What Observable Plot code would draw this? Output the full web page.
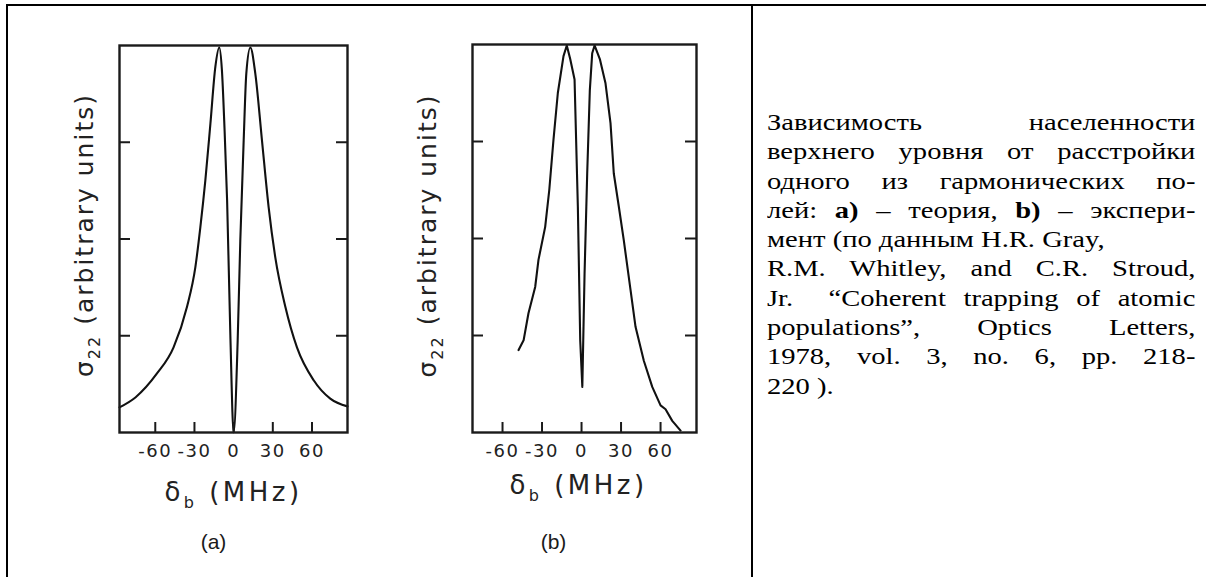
<!DOCTYPE html>
<html>
<head>
<meta charset="utf-8">
<script src="https://cdn.jsdelivr.net/npm/d3@7"></script>
<script src="https://cdn.jsdelivr.net/npm/@observablehq/plot@0.6"></script>
<style>
  html, body { margin: 0; padding: 0; background: #fff; }
  body { width: 1206px; height: 577px; overflow: hidden; position: relative; }
  .rule { position: absolute; background: #000; }
  #caption { position: absolute; left: 767px; top: 108px; width: 360px;
    transform: scaleX(1.19); transform-origin: 0 0;
    font-family: "Liberation Serif", "Times New Roman", serif; font-size: 24px; color: #000; }
  #caption div { height: 29.3px; line-height: 29.3px; overflow: visible; white-space: nowrap; }
  #caption div.j { text-align: justify; text-align-last: justify; white-space: normal; }
  #caption div.l { text-align: left; }
</style>
</head>
<body>
<div class="rule" style="left:6px;top:4px;width:1200px;height:2px"></div>
<div class="rule" style="left:6px;top:4px;width:2px;height:573px"></div>
<div class="rule" style="left:751px;top:4px;width:2px;height:573px"></div>
<div id="caption"></div>
<script>
// ---- data ----
const xTicks = [-60, -30, 0, 30, 60];
const xTickLabels = ["-60", "-30", "0", "30", "60"];
const yTicks = [1, 2, 3];

// (a) theory: sigma22 vs detuning (MHz)
const theoryDetuning = [-87.4, -75, -58.7, -46, -35.7, -29.3, -25.5, -21.7, -17.8, -14, -11, -9, -7, -5, -2.5, 0,
  3.1, 5.1, 7.7, 9.7, 12.8, 16.6, 21.7, 26.8, 31.9, 39.6, 48.5, 61.3, 74, 87.2];
const theoryPopulation = [0.26, 0.365, 0.61, 0.88, 1.30, 1.71, 2.12, 2.60, 3.19, 3.78, 3.98, 3.75, 3.15, 2.4, 1.0, 0.0,
  0.95, 1.98, 3.02, 3.71, 3.98, 3.71, 3.02, 2.33, 1.81, 1.30, 0.88, 0.54, 0.35, 0.27];

// (b) experiment
const exptDetuning = [-47.8, -44, -40.3, -35.2, -32.7, -27.6, -24.5, -21.3, -18, -13.7, -11.2, -8.6, -5.3, -2.8, -1.0, 0.6,
  2.3, 4.3, 6.3, 8.1, 9.9, 13.9, 18.2, 22, 24.5, 28.3, 32.1, 37.2, 41, 47.3, 53.7, 60, 63.8, 68.9, 75.2];
const exptPopulation = [0.85, 0.95, 1.23, 1.50, 1.78, 2.12, 2.50, 3.02, 3.50, 3.88, 3.99, 3.85, 3.64, 2.33, 0.95, 0.47,
  1.64, 2.67, 3.53, 3.91, 3.99, 3.85, 3.60, 3.19, 2.67, 2.33, 1.98, 1.47, 1.09, 0.74, 0.47, 0.28, 0.24, 0.12, 0.02];

const xLabelParts = [["δ", false], ["b", true], [" (MHz)", false]];
const yLabelParts = [["σ", false], ["22", true], [" (arbitrary units)", false]];
const panelLabels = ["(a)", "(b)"];

const captionLines = [
  "Зависимость населенности",
  "верхнего уровня от расстройки",
  "одного из гармонических по-",
  "лей: <b>a)</b> – теория, <b>b)</b> – экспери-",
  "мент (по данным H.R. Gray,",
  "R.M. Whitley, and C.R. Stroud,",
  "Jr.&nbsp; “Coherent trapping of atomic",
  "populations”, Optics Letters,",
  "1978, vol. 3, no. 6, pp. 218-",
  "220 )."
];
const captionJustified = [true, true, true, true, false, true, true, true, true, false];

// ---- drawing ----
const joinParts = parts => parts.map(p => p[0]).join("");

function richText(svg, parts, subSize, subShift, spacing) {
  const full = joinParts(parts);
  const t = d3.select(svg).selectAll("text").filter(function () { return this.textContent === full; });
  t.text(null).style("letter-spacing", spacing).style("white-space", "pre");
  let shifted = false;
  parts.forEach(([s, sub]) => {
    const ts = t.append("tspan").text(s);
    if (sub) { ts.attr("font-size", subSize).attr("dy", subShift); shifted = true; }
    else if (shifted) { ts.attr("dy", -subShift); shifted = false; }
  });
}

function panel(cfg) {
  const data = cfg.xs.map((x, i) => ({x, y: cfg.ys[i]}));
  const innerW = cfg.width - cfg.mL - cfg.mR;
  const innerH = cfg.height - cfg.mT - cfg.mB;
  const ink = "#1a1a1a";
  const svg = Plot.plot({
    width: cfg.width, height: cfg.height,
    marginLeft: cfg.mL, marginRight: cfg.mR, marginTop: cfg.mT, marginBottom: cfg.mB,
    style: {background: "transparent", overflow: "visible"},
    x: {domain: cfg.xDomain, label: null},
    y: {domain: [0, 4], axis: null, label: null},
    marks: [
      Plot.line(data, {x: "x", y: "y", stroke: "#111", strokeWidth: 2.1, curve: cfg.curve}),
      Plot.frame({stroke: ink, strokeWidth: 2.4}),
      Plot.tickX(xTicks, {x: d => d, stroke: ink, strokeWidth: 2, insetTop: innerH - 10}),
      Plot.tickY(yTicks, {y: d => d, stroke: ink, strokeWidth: 2, insetRight: innerW - 11}),
      Plot.tickY(yTicks, {y: d => d, stroke: ink, strokeWidth: 2, insetLeft: innerW - 11}),
      Plot.axisX(xTicks, {tickSize: 0, tickPadding: 12, label: null,
        tickFormat: d => xTickLabels[xTicks.indexOf(d)],
        fontSize: 18, fontFamily: "DejaVu Sans", fill: "#222"}),
      Plot.text([joinParts(xLabelParts)], {text: d => d, frameAnchor: "bottom", textAnchor: "middle", lineAnchor: "bottom",
        dx: cfg.xlDx, dy: cfg.xlDy, fontSize: 26, fontFamily: "DejaVu Sans", fill: "#222"}),
      Plot.text([joinParts(yLabelParts)], {text: d => d, frameAnchor: "left", rotate: -90, textAnchor: "middle", lineAnchor: "bottom",
        dx: cfg.ylDx, dy: cfg.ylDy, fontSize: 25, fontFamily: "DejaVu Sans", fill: "#222"}),
      Plot.text([cfg.panelLabel], {text: d => d, frameAnchor: "bottom", textAnchor: "middle", lineAnchor: "bottom",
        dx: cfg.plDx, dy: 116, fontSize: 21, fontFamily: "Liberation Sans, Arial, sans-serif", fill: "#1a1a1a"})
    ]
  });
  richText(svg, xLabelParts, 16, 7, "3.5px");
  richText(svg, yLabelParts, 16, 7, "2px");
  d3.select(svg).selectAll("text")
    .filter(function () { return xTickLabels.includes(this.textContent); })
    .style("letter-spacing", "1.5px");
  svg.style.position = "absolute";
  svg.style.left = cfg.left + "px";
  svg.style.top = cfg.top + "px";
  document.body.appendChild(svg);
}

panel({
  xs: theoryDetuning, ys: theoryPopulation, xDomain: [-87.4, 87.2], curve: "monotone-x",
  left: 20, top: 20, width: 350, height: 550, mL: 99, mR: 23, mT: 25, mB: 138,
  xlDx: 0, xlDy: 68, ylDx: -27, ylDy: -4, plDx: -20, panelLabel: panelLabels[0]
});
panel({
  xs: exptDetuning, ys: exptPopulation, xDomain: [-82.8, 87.3], curve: "linear",
  left: 380, top: 20, width: 340, height: 550, mL: 92, mR: 24, mT: 24, mB: 138,
  xlDx: -6, xlDy: 61, ylDx: -37, ylDy: -3, plDx: -31, panelLabel: panelLabels[1]
});

const cap = d3.select("#caption");
captionLines.forEach((line, i) => {
  cap.append("div").attr("class", captionJustified[i] ? "j" : "l").html(line);
});
</script>
</body>
</html>
